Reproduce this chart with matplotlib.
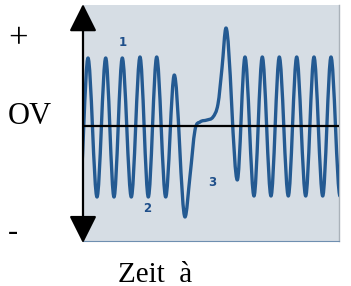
import matplotlib
matplotlib.use("Agg")
import matplotlib.pyplot as plt
from matplotlib.path import Path
from matplotlib.patches import PathPatch, FancyArrowPatch

# ---- data: waveform key points (time, voltage) ----
wave_t = [-3.6, 5.0, 14.0, 22.7, 31.0, 39.3, 48.3, 57.0, 65.3, 73.7, 82.7, 91.3,
          102.0, 107.0, 112.0, 117.0, 124.0, 130.0, 135.0, 139.0, 143.0,
          154.3, 162.0, 171.0, 179.3, 188.0, 196.3, 205.3, 213.7, 222.7, 231.0,
          239.7, 248.0, 257.0]
wave_v = [-71, 68, -71, 68, -71, 68, -71, 69, -71, 69, -71, 51,
          -91, -50, -4, 4, 6, 9, 22, 58, 98,
          -54, 69, -70, 69, -70, 69, -70, 69, -70, 69,
          -70, 69, -70]

label_text = ["1", "2", "3"]
label_t = [40, 64, 129]
label_v = [83, -83, -57]

x_range = (0, 256)
y_range = (-115, 121)

# ---- figure ----
W, H = 351, 286
fig = plt.figure(figsize=(W / 100, H / 100), dpi=100)
fig.patch.set_facecolor("white")

ax = fig.add_axes([83 / W, (H - 241) / H, (339 - 83) / W, (241 - 5) / H])
ax.set_facecolor("#d6dde4")
ax.set_xlim(*x_range)
ax.set_ylim(*y_range)
ax.set_xticks([])
ax.set_yticks([])
for s in ("top", "left"):
    ax.spines[s].set_visible(False)
ax.spines["right"].set_color("#aab2ba")
ax.spines["right"].set_linewidth(1.0)
ax.spines["bottom"].set_color("#6f8fb0")
ax.spines["bottom"].set_linewidth(0.8)

# build smooth cubic Hermite (Bezier) path through key points
n = len(wave_t)
slopes = []
for i in range(n):
    if i == 0 or i == n - 1:
        slopes.append(0.0)
        continue
    a, b, c = wave_v[i - 1], wave_v[i], wave_v[i + 1]
    if (b >= a and b >= c) or (b <= a and b <= c):
        slopes.append(0.0)
    else:
        slopes.append((c - a) / (wave_t[i + 1] - wave_t[i - 1]))

verts = [(wave_t[0], wave_v[0])]
codes = [Path.MOVETO]
for i in range(n - 1):
    dt = wave_t[i + 1] - wave_t[i]
    c1 = (wave_t[i] + dt / 3, wave_v[i] + slopes[i] * dt / 3)
    c2 = (wave_t[i + 1] - dt / 3, wave_v[i + 1] - slopes[i + 1] * dt / 3)
    verts += [c1, c2, (wave_t[i + 1], wave_v[i + 1])]
    codes += [Path.CURVE4] * 3

wave = PathPatch(Path(verts, codes), facecolor="none", edgecolor="#245a92",
                 linewidth=2.4, capstyle="round", joinstyle="round", zorder=3)
ax.add_patch(wave)

# zero line
ax.axhline(0, color="black", linewidth=1.6, zorder=4)

# numbered markers
for s, t, v in zip(label_text, label_t, label_v):
    ax.text(t, v, s, color="#1f4f8a", fontsize=8.5, fontweight="bold",
            ha="center", va="center", family="DejaVu Sans", zorder=5)

# vertical double arrow along the left edge
arrow = FancyArrowPatch((0, -0.009), (0, 1.004), transform=ax.transAxes,
                        arrowstyle="<|-|>,head_length=17,head_width=8.5",
                        mutation_scale=1, color="black", linewidth=1.6,
                        shrinkA=0, shrinkB=0, clip_on=False, zorder=6)
fig.add_artist(arrow)

serif = ["Liberation Serif", "DejaVu Serif"]
fig.text(18 / W, 1 - 40 / H, "+", fontsize=25, family=serif, ha="center", va="center")
fig.text(8 / W, 1 - 124 / H, "OV", fontsize=22, family=serif, ha="left", va="baseline")
fig.text(13 / W, 1 - 233 / H, "-", fontsize=22, family=serif, ha="center", va="center")
fig.text(118 / W, 1 - 281.5 / H, "Zeit  à", fontsize=21, family=serif, ha="left", va="baseline")

fig.savefig("out.png", dpi=100)
